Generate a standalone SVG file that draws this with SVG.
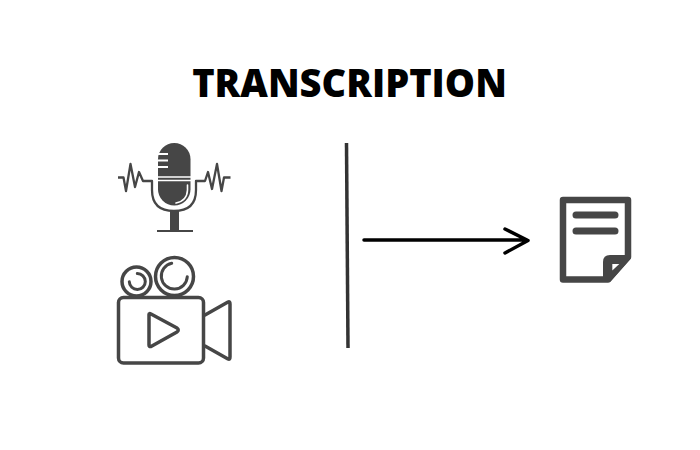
<svg xmlns="http://www.w3.org/2000/svg" width="700" height="450" viewBox="0 0 700 450">
<style>
.t{font-family:"Open Sans",sans-serif;font-weight:800;font-size:38px;fill:#000}
.d{fill:none;stroke:#464646;stroke-linecap:round;stroke-linejoin:round}
.f{fill:#464646}
.w{fill:none;stroke:#fff;stroke-linecap:round}
</style>
<rect width="700" height="450" fill="#fff"/>
<text id="title" class="t" x="349.500" y="97" text-anchor="middle">TRANSCRIPTION</text>
<g id="microphone">
<rect class="f" x="158" y="143" width="32.500" height="62.500" rx="16.250"/>
<path d="M158 154H168M158 160.500H168M158 167H168" class="w" stroke-width="1.800" style="stroke-linecap:butt"/>
<path d="M158 177H191M158 180.500H191" class="w" stroke-width="1.300" style="stroke-linecap:butt"/>
<path d="M187.500 185V190Q187 201 176 203" class="w" stroke-width="1.600"/>
<path d="M118 177.500H123.500L126 191L130.500 164L135 187L139 172L143 181H152V190Q152 211 174 211Q196 211 196 190V181H205L208 172L212 189L217 164L221.500 191L224 177.500H230.500" class="d" stroke-width="2.300" style="stroke-linecap:butt"/>
<rect class="f" x="170" y="211" width="9" height="20"/>
<rect class="f" x="157" y="230" width="36" height="2"/>
</g>
<g id="camera">
<rect class="d" x="118.500" y="297.500" width="85" height="65.500" rx="5" stroke-width="3.500"/>
<path class="d" stroke-width="3.500" d="M149 314.500Q149 313 151 314L177 328Q179.500 330 177 332L151 346.500Q149 347 149 345Z"/>
<path class="d" stroke-width="3.500" d="M205 315L228 302Q230 301 230 304V357Q230 360 228 359L205 346"/>
<circle class="d" stroke-width="3.500" cx="174.500" cy="276.500" r="19"/>
<path class="d" stroke-width="3" d="M171.700 263.300A13 13 0 1 0 187.300 276.700"/>
<circle class="d" stroke-width="3.500" cx="136.500" cy="281.500" r="14.500"/>
<path class="d" stroke-width="3" d="M137.300 273.500A8 8 0 1 1 129.300 281.700"/>
</g>
<g id="document">
<path class="d" stroke-width="6.500" d="M563 200H628V257L608 279.500H563Z"/>
<path class="f" d="M603 262Q603 255 610 255H631V258L610 282H603Z"/>
<path fill="#fff" d="M612.300 264H619.300L612.300 270.500Z"/>
<path class="d" stroke-width="7" d="M576 215H615M576 231H615"/>
</g>
<g id="connectors">
<line x1="346.500" y1="143" x2="348" y2="348" stroke="#333" stroke-width="3.500"/>
<path d="M364 240H527M505 229L528 240.500L505 253" fill="none" stroke="#000" stroke-width="3.500" stroke-linecap="round" stroke-linejoin="round"/>
</g>
</svg>
